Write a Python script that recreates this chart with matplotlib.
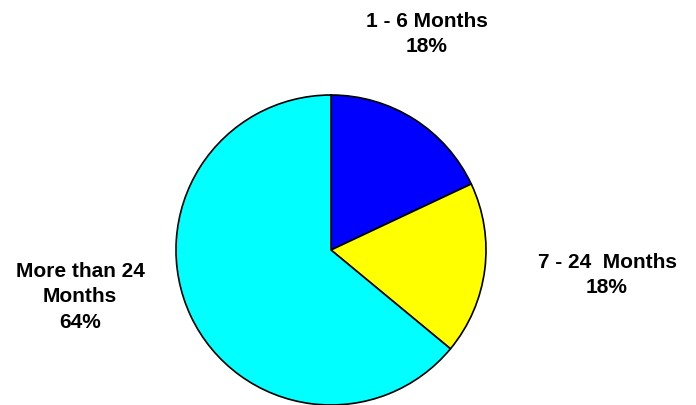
import matplotlib
matplotlib.use("Agg")
import matplotlib.pyplot as plt

categories = ["1 - 6 Months", "7 - 24  Months", "More than 24\nMonths"]
values = [18, 18, 64]
colors = ["#0000FF", "#FFFF00", "#00FFFF"]

plt.rcParams['font.family'] = ['Liberation Sans', 'DejaVu Sans']

fig = plt.figure(figsize=(6.96, 4.05), dpi=100)
ax = fig.add_axes([0, 0, 1, 1])
wedges, _ = ax.pie(values, colors=colors, startangle=90, counterclock=False,
                   center=(331, 155), radius=155,
                   wedgeprops=dict(edgecolor='black', linewidth=1.2))
for w in wedges:
    w.set_clip_on(False)
ax.set_xlim(0, 696)
ax.set_ylim(0, 405)
ax.set_aspect('equal')
ax.axis('off')

label_pos = [(427, 371), (607, 130), (80, 108)]
for cat, v, (x, y) in zip(categories, values, label_pos):
    ax.text(x, y, f"{cat}\n{v}%", ha='center', va='center', fontsize=15,
            fontweight='bold', linespacing=1.45)

fig.savefig("out.png", dpi=100)
